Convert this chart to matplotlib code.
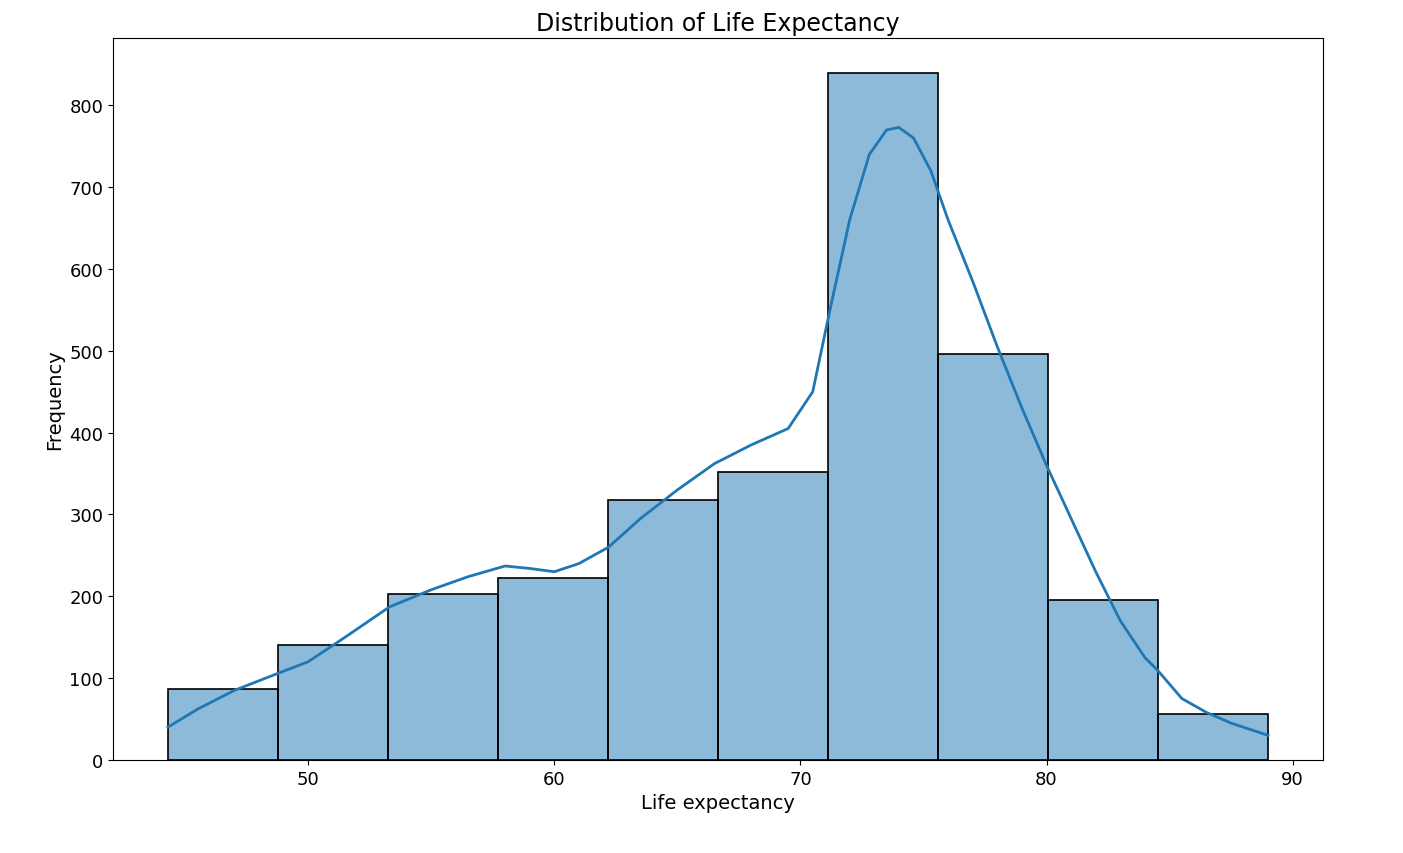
import matplotlib.pyplot as plt
import numpy as np

# histogram bins and counts
bin_edges = np.linspace(44.3, 89.0, 11)
counts = [87, 140, 203, 222, 318, 352, 840, 496, 196, 56]

# kde curve
kde_x = [44.3, 45.5, 47, 48.7, 50, 51.5, 53.3, 55, 56.5, 58, 59, 60, 61, 62.2, 63.5, 65,
         66.5, 68, 69.5, 70.5, 71.2, 72, 72.8, 73.5, 74, 74.6, 75.3, 76, 77, 78, 79, 80,
         81, 82, 83, 84, 84.5, 85.5, 86.5, 87.5, 89]
kde_y = [40, 62, 85, 105, 120, 150, 187, 208, 224, 237, 234, 230, 240, 260, 295, 330,
         362, 385, 405, 450, 550, 660, 740, 770, 773, 760, 720, 660, 585, 505, 430, 360,
         295, 230, 170, 125, 110, 75, 58, 45, 30]

fig, ax = plt.subplots(figsize=(14.03, 8.54), dpi=100)
fig.subplots_adjust(left=0.0805, right=0.943, top=0.954, bottom=0.109)

ax.hist(bin_edges[:-1], bins=bin_edges, weights=counts, color='#1f77b4', alpha=0.5,
        edgecolor='none')
ax.hist(bin_edges[:-1], bins=bin_edges, weights=counts, histtype='bar', fill=False,
        edgecolor='black', linewidth=1.2)
ax.plot(kde_x, kde_y, color='#1f77b4', linewidth=2)

ax.set_xticks([50, 60, 70, 80, 90])
ax.set_yticks(range(0, 900, 100))
ax.tick_params(labelsize=13)
ax.set_title('Distribution of Life Expectancy', fontsize=17)
ax.set_xlabel('Life expectancy', fontsize=14)
ax.set_ylabel('Frequency', fontsize=14)

plt.savefig('out.png')
